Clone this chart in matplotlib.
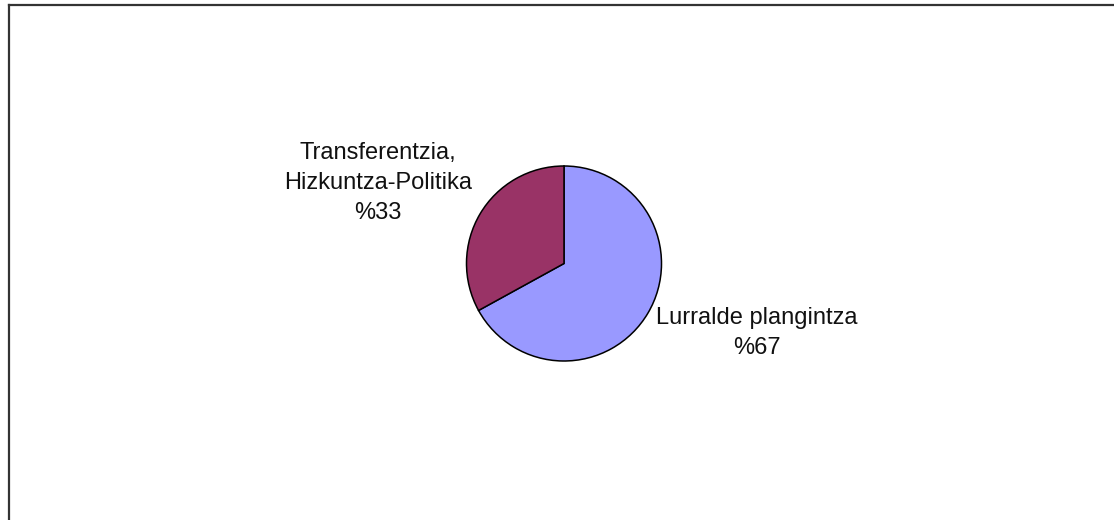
import matplotlib
matplotlib.use("Agg")
import matplotlib.pyplot as plt
from matplotlib.lines import Line2D

categories = ["Lurralde plangintza", "Transferentzia,\nHizkuntza-Politika"]
values = [67, 33]
colors = ["#9999FF", "#993366"]

W, H = 1114, 520
fig = plt.figure(figsize=(W / 100, H / 100), dpi=100)
ax = fig.add_axes([0, 0, 1, 1])

R = 97.5          # pie radius in pixels
cx, cy = 564, 263.5  # pie centre in pixels (from top)

wedges, _ = ax.pie(values, colors=colors, startangle=90, counterclock=False,
                   radius=1.0, center=(0, 0),
                   wedgeprops=dict(edgecolor="black", linewidth=1.1))
ax.set_xlim(-cx / R, (W - cx) / R)
ax.set_ylim(-(H - cy) / R, cy / R)
ax.set_aspect("equal")
ax.axis("off")

total = sum(values)
label_pos = [((757 - cx) / R, (cy - 333) / R), ((378 - cx) / R, (cy - 183) / R)]
for cat, v, (lx, ly) in zip(categories, values, label_pos):
    ax.text(lx, ly, f"{cat}\n%{round(100 * v / total)}", ha="center", va="center",
            fontsize=17, family="Liberation Sans", color="#111111", linespacing=1.45)

# partial frame (top and left edges)
fig.add_artist(Line2D([8.5 / W, 1.0], [1 - 4.5 / H, 1 - 4.5 / H], transform=fig.transFigure,
                      color="#333333", linewidth=1.6))
fig.add_artist(Line2D([8.5 / W, 8.5 / W], [0, 1 - 4.5 / H], transform=fig.transFigure,
                      color="#333333", linewidth=1.6))

fig.savefig("out.png", dpi=100)
